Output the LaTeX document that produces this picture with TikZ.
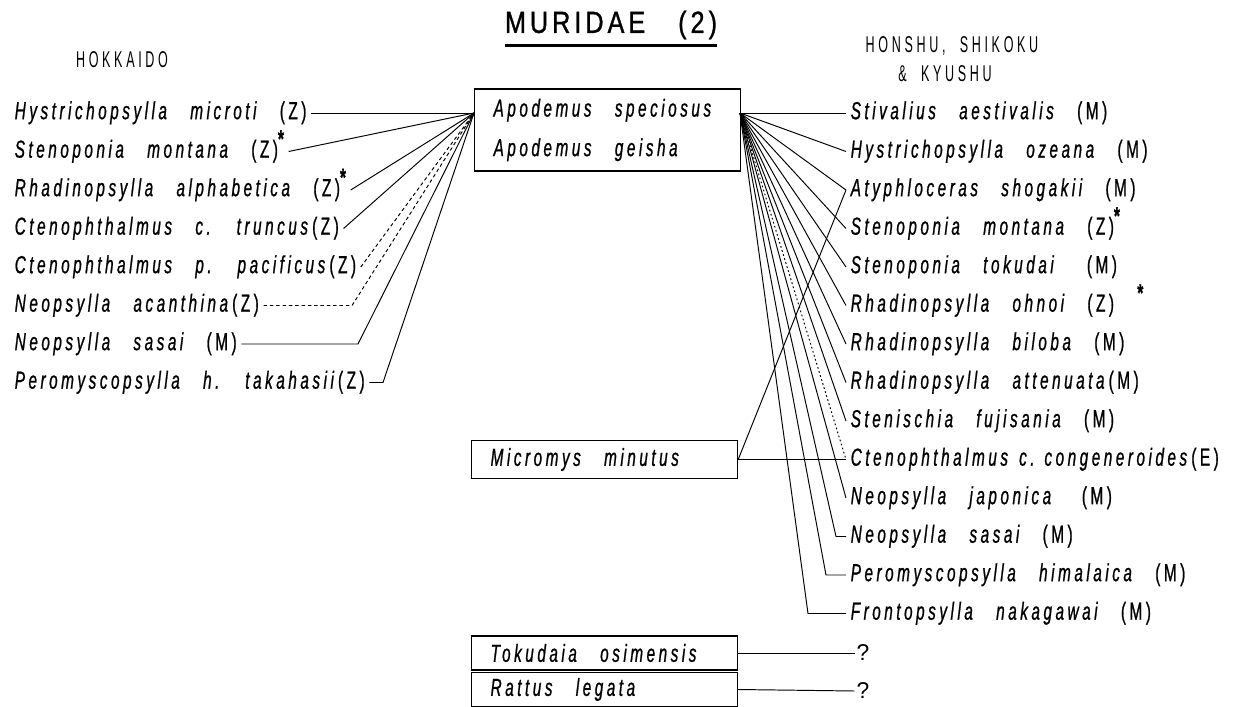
\documentclass[tikz,border=0pt]{standalone}
\usepackage{fontspec}
\setmainfont{Liberation Sans}
\newfontfamily\spfont[FakeStretch=0.625, FakeBold=0.8, LetterSpace=14.2, WordSpace=3.0]{Liberation Sans}
\newfontfamily\hdfont[FakeStretch=0.55, LetterSpace=16, WordSpace=2]{Liberation Sans}
\newfontfamily\ttlfont[FakeStretch=0.82, FakeBold=1, LetterSpace=13, WordSpace=3]{Liberation Sans}
\newcommand{\zone}[1]{{\upshape (#1)}}
\newcommand{\mk}{\raisebox{0.8ex}{\upshape\bfseries *}}

\begin{document}
\begin{tikzpicture}[
  x=0.02cm, y=-0.02cm,
  sp/.style={anchor=west, inner xsep=2.5pt, inner ysep=0pt, text height=10.5pt, text depth=3.5pt,
             font=\spfont\itshape\fontsize{14}{16}\selectfont},
  host/.style={draw, line width=0.7pt, anchor=west, minimum width=5.32cm, inner xsep=0.38cm,
               text width=4.56cm, align=left, font=\spfont\itshape\fontsize{14}{22.5}\selectfont,
               execute at begin node={\spaceskip=0pt\xspaceskip=0pt}},
  hd/.style={font=\hdfont\fontsize{13}{15}\selectfont, inner sep=0pt},
  fan/.style={line width=0.55pt},
  dsh/.style={fan, dash pattern=on 2pt off 1.6pt},
  dot/.style={fan, dash pattern=on 1pt off 1.4pt}
]
  \useasboundingbox (0,0) rectangle (1242,707);

  %--- Headings ---
  \node[inner sep=0pt, font=\ttlfont\fontsize{17.5}{20}\selectfont] (ttl) at (611,25) {MURIDAE (2)};
  \draw[line width=2pt] ([yshift=-0.12cm]ttl.south west) -- ([yshift=-0.12cm]ttl.south east);
  \node[hd] (hok) at (122,60) {HOKKAIDO};
  \node[hd] (hon) at (952,46) {HONSHU, SHIKOKU};
  \node[hd] (kyu) at (945,74) {\& KYUSHU};

  %--- Hosts ---
  \node[host, minimum height=1.64cm] (apo) at (474,130) {Apodemus speciosus\\Apodemus geisha};
  \node[host, minimum height=0.76cm] (mic) at (471,459.5) {Micromys minutus};
  \node[host, minimum height=0.68cm] (tok) at (471,653) {Tokudaia osimensis};
  \node[host, minimum height=0.58cm] (rat) at (471,689.5) {Rattus legata};
  \coordinate (fl) at (474,113);
  \coordinate (fr) at (740,113);

  %--- Hokkaido ---
  \node[sp] (h1) at (10,113.0) {Hystrichopsylla microti \zone{Z}};
  \node[sp] (h2) at (10,151.5) {Stenoponia montana \zone{Z}\mk};
  \node[sp] (h3) at (10,190.0) {Rhadinopsylla alphabetica \zone{Z}\mk};
  \node[sp] (h4) at (10,228.5) {Ctenophthalmus c. truncus\,\zone{Z}};
  \node[sp] (h5) at (10,267.0) {Ctenophthalmus p. pacificus\,\zone{Z}};
  \node[sp] (h6) at (10,305.5) {Neopsylla acanthina\,\zone{Z}};
  \node[sp] (h7) at (10,344.0) {Neopsylla sasai \zone{M}};
  \node[sp] (h8) at (10,382.5) {Peromyscopsylla h. takahasii\,\zone{Z}};
  \coordinate (b6) at (352,305.5);
  \coordinate (b7) at (358,344.0);
  \coordinate (b8) at (383,382.5);

  %--- Honshu, Shikoku & Kyushu ---
  \node[sp] (r1)  at (846,113.0) {Stivalius aestivalis \zone{M}};
  \node[sp] (r2)  at (846,151.5) {Hystrichopsylla ozeana \zone{M}};
  \node[sp] (r3)  at (846,190.0) {Atyphloceras shogakii \zone{M}};
  \node[sp] (r4)  at (846,228.5) {Stenoponia montana \zone{Z}\mk};
  \node[sp] (r5)  at (846,267.0) {Stenoponia tokudai \hspace{0.4em}\zone{M}};
  \node[sp] (r6)  at (846,305.5) {Rhadinopsylla ohnoi \zone{Z} \mk};
  \node[sp] (r7)  at (846,344.0) {Rhadinopsylla biloba \zone{M}};
  \node[sp] (r8)  at (846,382.5) {Rhadinopsylla attenuata\,\zone{M}};
  \node[sp] (r9)  at (846,421.0) {Stenischia fujisania \zone{M}};
  \node[sp] (r10) at (846,459.5) {Ctenophthalmus\hspace{0.45em}c.\hspace{0.4em}congeneroides\,\zone{E}};
  \node[sp] (r11) at (846,498.0) {Neopsylla japonica \hspace{0.3em}\zone{M}};
  \node[sp] (r12) at (846,536.5) {Neopsylla sasai \zone{M}};
  \node[sp] (r13) at (846,575.0) {Peromyscopsylla himalaica \zone{M}};
  \node[sp] (r14) at (846,613.5) {Frontopsylla nakagawai \zone{M}};
  \coordinate (c12) at (836,536.5);
  \coordinate (c13) at (826,575.0);
  \coordinate (c14) at (808,613.5);

  \node[inner sep=1pt, font=\fontsize{13}{15}\selectfont] (q1) at (863,653) {?};
  \node[inner sep=1pt, font=\fontsize{13}{15}\selectfont] (q2) at (863,691) {?};

  % Left fan
  \draw[fan] (h1.east) -- (fl);
  \draw[fan] (h2.east) -- (fl);
  \draw[fan] (h3.east) -- (fl);
  \draw[fan] (h4.east) -- (fl);
  \draw[dsh] (h5.east) -- (fl);
  \draw[dsh] (h6.east) -- (b6) -- (fl);
  \draw[fan] (h7.east) -- (b7) -- (fl);
  \draw[fan] (h8.east) -- (b8) -- (fl);

  % Right fan
  \draw[fan] (fr) -- (r1.west);  \draw[fan] (fr) -- (r2.west);
  \draw[fan] (fr) -- (r3.west);  \draw[fan] (fr) -- (r4.west);
  \draw[fan] (fr) -- (r5.west);  \draw[fan] (fr) -- (r6.west);
  \draw[fan] (fr) -- (r7.west);  \draw[fan] (fr) -- (r8.west);
  \draw[fan] (fr) -- (r9.west);  \draw[dot] (fr) -- (r10.west);
  \draw[fan] (fr) -- (r11.west);
  \draw[fan] (fr) -- (c12) -- (r12.west);
  \draw[fan] (fr) -- (c13) -- (r13.west);
  \draw[fan] (fr) -- (c14) -- (r14.west);

  % Micromys and the rest
  \draw[fan] (mic.east) -- (r10.west);
  \draw[fan] (mic.east) -- (r3.west);
  \draw[fan] (tok.east) -- (q1.west);
  \draw[fan] (rat.east) -- (q2.west);
\end{tikzpicture}
\end{document}
